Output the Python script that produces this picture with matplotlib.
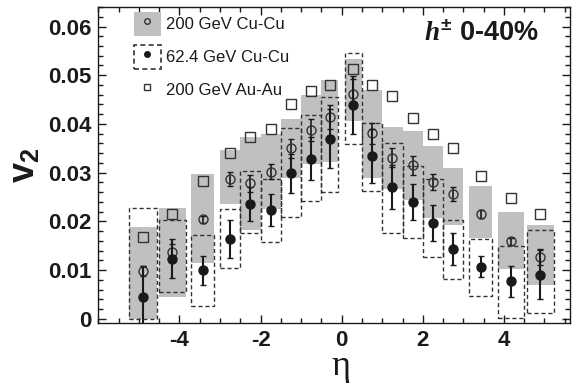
import matplotlib
matplotlib.use("Agg")
import matplotlib.pyplot as plt
from matplotlib.patches import Rectangle
from matplotlib.lines import Line2D
from matplotlib.ticker import MultipleLocator, FixedLocator, FuncFormatter

plt.rcParams["font.family"] = ["Liberation Sans", "DejaVu Sans"]
plt.rcParams["axes.unicode_minus"] = False
plt.rcParams["mathtext.fontset"] = "custom"
plt.rcParams["mathtext.rm"] = "Liberation Sans:bold"
plt.rcParams["mathtext.bf"] = "Liberation Sans:bold"
plt.rcParams["mathtext.it"] = "Liberation Serif:italic:bold"

# pseudorapidity bins
eta = [-4.9, -4.175, -3.425, -2.75, -2.25, -1.75, -1.25, -0.75, -0.29,
       0.29, 0.75, 1.25, 1.75, 2.25, 2.75, 3.425, 4.175, 4.9]
bin_width = [0.68, 0.65, 0.56, 0.5, 0.5, 0.5, 0.5, 0.5, 0.42,
             0.42, 0.5, 0.5, 0.5, 0.5, 0.5, 0.56, 0.65, 0.68]

# 200 GeV Cu-Cu
v2_cu200 = [0.0098, 0.0138, 0.0204, 0.0287, 0.0278, 0.0302, 0.0350, 0.0388, 0.0414,
            0.0462, 0.0381, 0.0331, 0.0315, 0.0281, 0.0256, 0.0216, 0.0159, 0.0127]
err_cu200 = [0.0010, 0.0015, 0.0008, 0.0015, 0.0017, 0.0015, 0.0020, 0.0022, 0.0025,
             0.0030, 0.0022, 0.0019, 0.0019, 0.0016, 0.0015, 0.0008, 0.0008, 0.0017]
sys_lo_cu200 = [0.0, 0.0044, 0.0115, 0.0235, 0.0183, 0.0225, 0.0290, 0.0318, 0.0321,
                0.0406, 0.0289, 0.0266, 0.0245, 0.0208, 0.0192, 0.0166, 0.0102, 0.0070]
sys_hi_cu200 = [0.0189, 0.0228, 0.0297, 0.0347, 0.0373, 0.0379, 0.0410, 0.0460, 0.0491,
                0.0534, 0.0470, 0.0394, 0.0385, 0.0355, 0.0309, 0.0273, 0.0220, 0.0192]

# 62.4 GeV Cu-Cu
v2_cu62 = [0.0045, 0.0123, 0.0100, 0.0163, 0.0235, 0.0223, 0.0299, 0.0329, 0.0370,
           0.0439, 0.0334, 0.0271, 0.0239, 0.0197, 0.0144, 0.0107, 0.0077, 0.0091]
err_cu62 = [0.0063, 0.0040, 0.0030, 0.0039, 0.0035, 0.0033, 0.0040, 0.0045, 0.0060,
            0.0060, 0.0056, 0.0045, 0.0037, 0.0037, 0.0033, 0.0022, 0.0032, 0.0050]
sys_lo_cu62 = [0.0, 0.0056, 0.0027, 0.0105, 0.0177, 0.0158, 0.0209, 0.0242, 0.0260,
               0.0359, 0.0262, 0.0177, 0.0165, 0.0127, 0.0082, 0.0047, 0.0001, 0.0013]
sys_hi_cu62 = [0.0228, 0.0203, 0.0173, 0.0226, 0.0304, 0.0288, 0.0392, 0.0419, 0.0455,
               0.0546, 0.0402, 0.0360, 0.0314, 0.0288, 0.0203, 0.0163, 0.0149, 0.0182]

# 200 GeV Au-Au
v2_au200 = [0.0168, 0.0216, 0.0282, 0.0340, 0.0373, 0.0390, 0.0441, 0.0467, 0.0479,
            0.0512, 0.0480, 0.0457, 0.0412, 0.0379, 0.0351, 0.0293, 0.0249, 0.0216]

labels = ["200 GeV Cu-Cu", "62.4 GeV Cu-Cu", "200 GeV Au-Au"]

gray = "#c0c0c0"
ink = "#1a1a1a"
dash = (0, (3, 2))

fig = plt.figure(figsize=(5.79, 3.85), dpi=100)
ax = fig.add_axes([0.1698, 0.1603, 0.8147, 0.8215])

h_cu200 = [hi - lo for lo, hi in zip(sys_lo_cu200, sys_hi_cu200)]
h_cu62 = [hi - lo for lo, hi in zip(sys_lo_cu62, sys_hi_cu62)]

ax.bar(eta, h_cu200, width=bin_width, bottom=sys_lo_cu200, color=gray,
       edgecolor="none", zorder=1)
ax.bar(eta, h_cu62, width=bin_width, bottom=sys_lo_cu62, fill=False,
       edgecolor="#333333", linestyle=dash, linewidth=1.0, zorder=2)

ax.plot(eta, v2_au200, ls="none", marker="s", ms=6.5, mfc="none", mec="#333333",
        mew=1.0, zorder=3)
ax.errorbar(eta, v2_cu200, yerr=err_cu200, fmt="o", ms=6.5, mfc="none",
            mec="#333333", mew=1.0, ecolor=ink, elinewidth=1.2, capsize=2,
            capthick=1.0, zorder=4)
ax.errorbar(eta, v2_cu62, yerr=err_cu62, fmt="o", ms=6.5, color=ink,
            ecolor=ink, elinewidth=1.5, capsize=2, capthick=1.0, zorder=5)

ax.set_xlim(-6.0, 5.63)
ax.set_ylim(-0.0009, 0.064)

ax.xaxis.set_major_locator(FixedLocator([-4, -2, 0, 2, 4]))
ax.xaxis.set_minor_locator(MultipleLocator(0.5))
ax.yaxis.set_major_locator(FixedLocator([0, 0.01, 0.02, 0.03, 0.04, 0.05, 0.06]))
ax.yaxis.set_minor_locator(MultipleLocator(0.002))
ax.yaxis.set_major_formatter(FuncFormatter(lambda v, p: "0" if abs(v) < 1e-9 else f"{v:.2f}"))
ax.xaxis.set_major_formatter(FuncFormatter(lambda v, p: f"{v:.0f}"))

ax.tick_params(which="both", direction="in", top=True, right=True, width=1.0,
               colors=ink)
ax.tick_params(which="major", length=6, pad=5, labelsize=16)
ax.tick_params(which="minor", length=3.5)
for lab in ax.get_xticklabels() + ax.get_yticklabels():
    lab.set_fontweight("bold")
for sp in ax.spines.values():
    sp.set_linewidth(1.0)
    sp.set_color(ink)

ax.set_ylabel(r"$\mathrm{v}_{2}$", fontsize=26, color=ink, labelpad=4)
ax.set_xlabel("η", fontsize=26, family=["Liberation Serif", "DejaVu Serif"],
              color=ink, labelpad=0)
ax.xaxis.set_label_coords(0.515, -0.085)

ax.text(0.935, 0.895, r"$h^{\pm}$ 0-40%", transform=ax.transAxes, ha="right",
        va="baseline", fontsize=19.5, fontweight="bold", color=ink)

leg_handles = [
    (Rectangle((0, 0), 1, 1, facecolor=gray, edgecolor="none"),
     Line2D([], [], ls="none", marker="o", ms=4, mfc="none", mec="#333333", mew=1.0)),
    (Rectangle((0, 0), 1, 1, fill=False, edgecolor="#333333", linestyle=dash, linewidth=1.2),
     Line2D([], [], ls="none", marker="o", ms=4, color=ink)),
    Line2D([], [], ls="none", marker="s", ms=4.5, mfc="none", mec="#333333", mew=1.0),
]
ax.legend(leg_handles, labels, loc="upper left", bbox_to_anchor=(0.0757, 0.985),
          frameon=False, fontsize=12, handlelength=1.6, handleheight=1.9,
          handletextpad=0.3, labelspacing=0.5, borderpad=0, borderaxespad=0,
          labelcolor=ink)

fig.savefig("out.png", dpi=100)
